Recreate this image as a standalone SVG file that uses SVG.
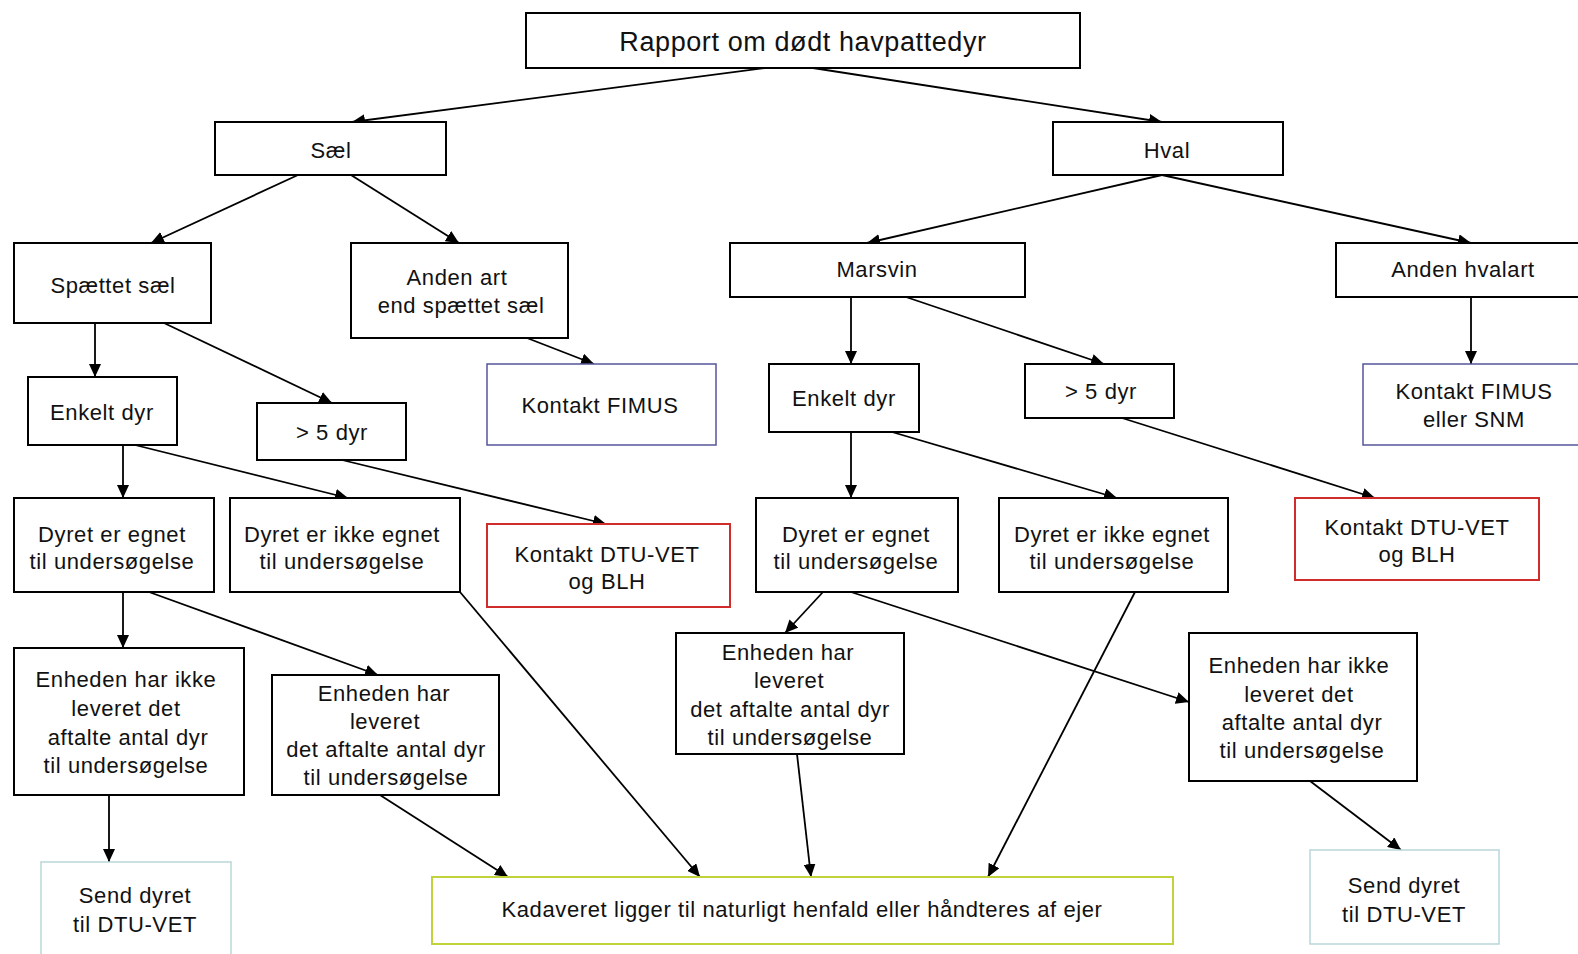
<svg xmlns="http://www.w3.org/2000/svg" width="1578" height="954" viewBox="0 0 1578 954">
<defs>
<marker id="ah" markerUnits="userSpaceOnUse" markerWidth="14" markerHeight="12" refX="13" refY="6" orient="auto">
<path d="M0,0 L13,6 L0,12 z" fill="#000"/>
</marker>
<style>
rect{fill:#fff;stroke:#000;stroke-width:2}
rect.blue{stroke:#55559a;stroke-width:1.5}
rect.red{stroke:#d02c2c;stroke-width:2}
rect.teal{stroke:#b9d6da;stroke-width:1.5}
rect.green{stroke:#c2d23a;stroke-width:2}
text{font-family:"Liberation Sans",Arial,sans-serif;font-size:22px;letter-spacing:0.6px;fill:#111;text-anchor:middle}
text.t{font-size:27px;letter-spacing:0.6px}
#connectors line{stroke:#000;stroke-width:1.8;marker-end:url(#ah)}
</style>
</defs>
<rect x="0" y="0" width="1578" height="954" style="fill:#fff;stroke:none"/>
<g id="connectors">
<line x1="765" y1="68" x2="352" y2="122"/>
<line x1="813" y1="68" x2="1162" y2="122"/>
<line x1="298" y1="175" x2="151" y2="243"/>
<line x1="351" y1="175" x2="459" y2="243"/>
<line x1="1162" y1="175" x2="867" y2="243"/>
<line x1="1162" y1="175" x2="1471" y2="243"/>
<line x1="95" y1="323" x2="95" y2="377"/>
<line x1="164" y1="323" x2="332" y2="403"/>
<line x1="527" y1="338" x2="594" y2="364"/>
<line x1="851" y1="297" x2="851" y2="364"/>
<line x1="906" y1="297" x2="1104" y2="364"/>
<line x1="1471" y1="297" x2="1471" y2="364"/>
<line x1="123" y1="445" x2="123" y2="498"/>
<line x1="135" y1="445" x2="348" y2="498"/>
<line x1="342" y1="460" x2="606" y2="524"/>
<line x1="851" y1="432" x2="851" y2="498"/>
<line x1="892" y1="432" x2="1117" y2="498"/>
<line x1="1122" y1="418" x2="1375" y2="498"/>
<line x1="123" y1="592" x2="123" y2="648"/>
<line x1="149" y1="592" x2="378" y2="675"/>
<line x1="460" y1="592" x2="700" y2="877"/>
<line x1="823" y1="592" x2="785" y2="633"/>
<line x1="851" y1="592" x2="1189" y2="702"/>
<line x1="1135" y1="592" x2="988" y2="877"/>
<line x1="109" y1="795" x2="109" y2="862"/>
<line x1="380" y1="795" x2="508" y2="877"/>
<line x1="797" y1="754" x2="811" y2="877"/>
<line x1="1310" y1="781" x2="1401" y2="850"/>
</g>
<g id="n-rapport"><rect x="526" y="13" width="554" height="55"/><text class="t" x="803" y="51">Rapport om dødt havpattedyr</text></g>
<g id="n-sael"><rect x="215" y="122" width="231" height="53"/><text x="331" y="158">Sæl</text></g>
<g id="n-hval"><rect x="1053" y="122" width="230" height="53"/><text x="1167" y="158">Hval</text></g>
<g id="n-spaettet"><rect x="14" y="243" width="197" height="80"/><text x="113" y="293">Spættet sæl</text></g>
<g id="n-anden-art"><rect x="351" y="243" width="217" height="95"/><text x="457" y="285">Anden art</text><text x="461" y="313">end spættet sæl</text></g>
<g id="n-marsvin"><rect x="730" y="243" width="295" height="54"/><text x="877" y="277">Marsvin</text></g>
<g id="n-anden-hval"><rect x="1336" y="243" width="250" height="54"/><text x="1463" y="277">Anden hvalart</text></g>
<g id="n-enkelt-l"><rect x="28" y="377" width="149" height="68"/><text x="102" y="420">Enkelt dyr</text></g>
<g id="n-fem-l"><rect x="257" y="403" width="149" height="57"/><text x="332" y="440">&gt; 5 dyr</text></g>
<g id="n-fimus"><rect class="blue" x="487" y="364" width="229" height="81"/><text x="600" y="413">Kontakt FIMUS</text></g>
<g id="n-enkelt-r"><rect x="769" y="364" width="150" height="68"/><text x="844" y="406">Enkelt dyr</text></g>
<g id="n-fem-r"><rect x="1025" y="364" width="149" height="54"/><text x="1101" y="399">&gt; 5 dyr</text></g>
<g id="n-fimus-snm"><rect class="blue" x="1363" y="364" width="225" height="81"/><text x="1474" y="399">Kontakt FIMUS</text><text x="1474" y="427">eller SNM</text></g>
<g id="n-egnet-l"><rect x="14" y="498" width="200" height="94"/><text x="112" y="542">Dyret er egnet</text><text x="112" y="569">til undersøgelse</text></g>
<g id="n-ikke-egnet-l"><rect x="230" y="498" width="230" height="94"/><text x="342" y="542">Dyret er ikke egnet</text><text x="342" y="569">til undersøgelse</text></g>
<g id="n-dtu-l"><rect class="red" x="487" y="524" width="243" height="83"/><text x="607" y="562">Kontakt DTU-VET</text><text x="607" y="589">og BLH</text></g>
<g id="n-egnet-r"><rect x="756" y="498" width="202" height="94"/><text x="856" y="542">Dyret er egnet</text><text x="856" y="569">til undersøgelse</text></g>
<g id="n-ikke-egnet-r"><rect x="999" y="498" width="229" height="94"/><text x="1112" y="542">Dyret er ikke egnet</text><text x="1112" y="569">til undersøgelse</text></g>
<g id="n-dtu-r"><rect class="red" x="1295" y="498" width="244" height="82"/><text x="1417" y="535">Kontakt DTU-VET</text><text x="1417" y="562">og BLH</text></g>
<g id="n-ikke-lev-l"><rect x="14" y="648" width="230" height="147"/><text x="126" y="687">Enheden har ikke</text><text x="126" y="716">leveret det</text><text x="128" y="745">aftalte antal dyr</text><text x="126" y="773">til undersøgelse</text></g>
<g id="n-lev-l"><rect x="272" y="675" width="227" height="120"/><text x="384" y="701">Enheden har</text><text x="385" y="729">leveret</text><text x="386" y="757">det aftalte antal dyr</text><text x="386" y="785">til undersøgelse</text></g>
<g id="n-lev-m"><rect x="676" y="633" width="228" height="121"/><text x="788" y="660">Enheden har</text><text x="789" y="688">leveret</text><text x="790" y="717">det aftalte antal dyr</text><text x="790" y="745">til undersøgelse</text></g>
<g id="n-ikke-lev-r"><rect x="1189" y="633" width="228" height="148"/><text x="1299" y="673">Enheden har ikke</text><text x="1299" y="702">leveret det</text><text x="1302" y="730">aftalte antal dyr</text><text x="1302" y="758">til undersøgelse</text></g>
<g id="n-send-l"><rect class="teal" x="41" y="862" width="190" height="96"/><text x="135" y="903">Send dyret</text><text x="135" y="932">til DTU-VET</text></g>
<g id="n-kadaver"><rect class="green" x="432" y="877" width="741" height="67"/><text x="802" y="917">Kadaveret ligger til naturligt henfald eller håndteres af ejer</text></g>
<g id="n-send-r"><rect class="teal" x="1310" y="850" width="189" height="94"/><text x="1404" y="893">Send dyret</text><text x="1404" y="922">til DTU-VET</text></g>
</svg>
